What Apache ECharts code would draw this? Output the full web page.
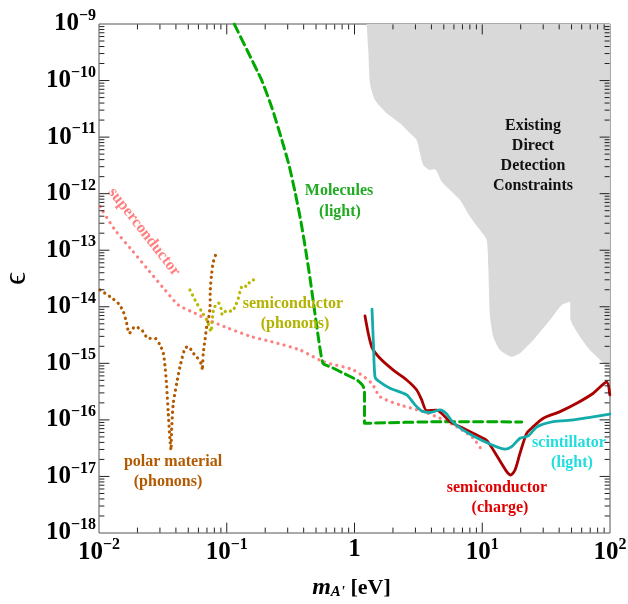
<!DOCTYPE html>
<html>
<head>
<meta charset="utf-8">
<script src="https://cdn.jsdelivr.net/npm/echarts@6/dist/echarts.min.js"></script>
<style>html,body{margin:0;padding:0;background:#fff}#c{width:628px;height:604px}</style>
</head>
<body>
<div id="c"></div>
<script>
// ---- data ----
const xTickExp = [-2, -1, 0, 1, 2];
const yTickExp = [-18, -17, -16, -15, -14, -13, -12, -11, -10, -9];

const existingConstraints = [
  [1.246, 9.95e-10], [1.282, 3.47e-10], [1.322, 8.95e-11], [1.447, 4.53e-11], [1.787, 2.64e-11],
  [2.271, 1.75e-11], [2.719, 1.17e-11], [3.068, 8.9e-12], [3.256, 5.17e-12], [3.456, 3.21e-12],
  [3.899, 2.62e-12], [4.267, 2.69e-12], [4.815, 1.63e-12], [5.592, 1.16e-12], [6.696, 7.7e-13],
  [8.02, 3.92e-13], [9.60, 2.28e-13], [10.84, 1.52e-13], [11.15, 5.12e-14], [11.50, 6.7e-15],
  [12.20, 2.96e-15], [13.77, 1.72e-15], [17.0, 1.31e-15], [19.75, 1.51e-15], [25.09, 2.59e-15],
  [33.9, 5.85e-15], [41.9, 1.08e-14], [48.6, 1.23e-14], [49.2, 5.85e-15], [58.2, 2.96e-15],
  [69.7, 1.72e-15], [83.5, 1.15e-15], [99.9, 8.3e-16]
];

const molecules = [
  [0.1146, 9.95e-10], [0.1441, 3.47e-10], [0.1888, 9.8e-11], [0.2261, 3.27e-11], [0.2659, 1.0e-11],
  [0.3071, 3.21e-12], [0.3452, 9.87e-13], [0.3813, 3.16e-13], [0.415, 1.0e-13], [0.4484, 3.23e-14],
  [0.482, 1.0e-14], [0.5179, 3.17e-15], [0.5667, 1.0e-15], [0.6786, 8.28e-16], [0.8424, 6.48e-16],
  [1.046, 5.08e-16], [1.166, 3.98e-16], [1.198, 3.12e-16], [1.198, 8.71e-17], [4.93, 9.3e-17],
  [20.4, 9.2e-17]
];

const superconductor = [
  [0.01018, 5.9e-13], [0.01334, 2.28e-13], [0.01803, 1.01e-13], [0.02432, 4.48e-14], [0.03288, 1.98e-14],
  [0.04178, 1.08e-14], [0.0564, 7.7e-15], [0.0718, 5.85e-15], [0.1028, 4.17e-15], [0.1567, 2.96e-15],
  [0.2248, 2.41e-15], [0.3744, 1.72e-15], [0.570, 1.07e-15], [0.978, 7.63e-16], [1.363, 4.44e-16],
  [1.583, 2.58e-16], [2.27, 1.84e-16], [3.46, 1.40e-16], [4.67, 1.07e-16], [6.31, 7.6e-17],
  [8.51, 4.73e-17], [9.9, 2.94e-17]
];

const polarMaterial = [
  [0.01018, 1.98e-14], [0.01219, 1.51e-14], [0.01416, 1.15e-14], [0.01549, 8.2e-15], [0.01647, 5.1e-15],
  [0.01726, 3.4e-15], [0.01914, 4.45e-15], [0.02159, 3.89e-15], [0.02432, 2.77e-15], [0.02743, 2.77e-15],
  [0.03002, 2.11e-15], [0.03186, 1.51e-15], [0.03288, 8.7e-16], [0.03388, 3.87e-16], [0.03486, 1.31e-16],
  [0.03595, 4.4e-17], [0.03662, 2.94e-17], [0.03700, 6.6e-17], [0.03818, 1.97e-16], [0.04057, 4.44e-16],
  [0.04305, 8.7e-16], [0.04711, 1.85e-15], [0.05000, 1.97e-15], [0.05470, 1.51e-15], [0.05818, 1.31e-15],
  [0.06368, 9.35e-16], [0.06430, 7.6e-16], [0.06548, 1.51e-15], [0.06755, 2.59e-15], [0.06966, 4.45e-15],
  [0.07177, 5.85e-15], [0.07401, 1.0e-14], [0.0743, 1.98e-14], [0.07627, 3.9e-14], [0.07858, 6.27e-14],
  [0.08336, 9.2e-14]
];

const semiPhonons = [
  [0.05152, 1.98e-14], [0.0564, 1.32e-14], [0.06368, 8.2e-15], [0.06966, 5.85e-15], [0.07534, 3.63e-15],
  [0.0769, 5.85e-15], [0.0794, 9.4e-15], [0.0859, 1.18e-14], [0.0902, 9.4e-15], [0.0923, 7.2e-15],
  [0.0969, 8.2e-15], [0.1028, 8.77e-15], [0.1093, 8.2e-15], [0.1161, 1.0e-14], [0.1231, 1.41e-14],
  [0.1292, 2.12e-14], [0.1347, 2.43e-14], [0.1432, 2.27e-14], [0.1520, 2.78e-14], [0.1614, 2.98e-14],
  [0.1747, 2.6e-14]
];

const semiCharge = [
  [1.208, 6.9e-15], [1.363, 1.97e-15], [1.583, 1.23e-15], [2.013, 7.6e-16], [2.563, 5.08e-16],
  [3.068, 3.38e-16], [3.357, 2.25e-16], [3.674, 1.46e-16], [4.399, 1.49e-16], [4.955, 1.22e-16],
  [5.592, 9.3e-17], [7.556, 6.64e-17], [9.05, 5.41e-17], [10.84, 4.33e-17], [12.20, 2.94e-17],
  [13.77, 1.88e-17], [15.54, 1.22e-17], [16.70, 1.06e-17], [18.05, 1.30e-17], [19.75, 2.57e-17],
  [22.28, 5.8e-17], [25.09, 7.6e-17], [30.06, 1.07e-16], [40.6, 1.40e-16], [54.9, 1.97e-16],
  [74.0, 2.96e-16], [94.2, 4.68e-16], [99.7, 2.76e-16]
];

const scintillator = [
  [1.371, 9.1e-15], [1.408, 2.11e-15], [1.447, 5.74e-16], [1.536, 4.88e-16], [1.896, 3.62e-16],
  [2.563, 2.76e-16], [2.976, 1.84e-16], [3.357, 1.44e-16], [3.899, 1.35e-16], [4.67, 1.50e-16],
  [5.203, 1.31e-16], [5.767, 9.6e-17], [6.696, 7.2e-17], [8.51, 5.2e-17], [11.50, 3.75e-17],
  [15.07, 3.03e-17], [17.0, 3.36e-17], [19.75, 4.73e-17], [22.94, 5.2e-17], [26.69, 7.5e-17],
  [35.99, 9.3e-17], [51.6, 9.97e-17], [69.7, 1.11e-16], [99.8, 1.27e-16]
];

// ---- chart ----
const SERIF = '"Liberation Serif","Times New Roman",serif';
const chart = echarts.init(document.getElementById('c'), null, {renderer: 'canvas'});

function expLabel(v) {
  const e = Math.round(Math.log10(v));
  if (e === 0) return '{b|1}';
  if (e === 1) return '{b|10}{e|1}';
  if (e > 1) return '{b|10}{e|' + e + '}';
  return '{b|10}{e|\u2212' + (-e) + '}';
}
const labelRich = {
  b: {fontFamily: SERIF, fontWeight: 'bold', fontSize: 25, color: '#000'},
  e: {fontFamily: SERIF, fontWeight: 'bold', fontSize: 16, color: '#000', padding: [0, 0, 16, 0]}
};

function curve(data, color, width, dash, z, smooth) {
  return {
    type: 'line', data: data, showSymbol: false, symbol: 'none', z: z || 3, silent: true,
    smooth: smooth === undefined ? 0.25 : smooth,
    lineStyle: {color: color, width: width, type: dash || 'solid', cap: 'round', join: 'round'}
  };
}

function txt(x, y, s, color, size) {
  return {type: 'text', x: x, y: y, z: 20, silent: true,
    style: {text: s, fill: color, font: 'bold ' + (size || 16) + 'px ' + SERIF, textAlign: 'center', textVerticalAlign: 'middle'}};
}

// ---- inward tick marks on all four sides, drawn as short segments on the log axes.
// Endpoints are kept just inside the axis extent (values exactly on the extent are not drawn).
const X0 = 0.01, X1 = 100, Y0 = 1e-18, Y1 = 1e-9;
const GRID = {left: 99, top: 24, right: 18, bottom: 71};
const pxPerDecX = (628 - GRID.left - GRID.right) / (xTickExp[xTickExp.length - 1] - xTickExp[0]);
const pxPerDecY = (604 - GRID.top - GRID.bottom) / (yTickExp[yTickExp.length - 1] - yTickExp[0]);
const gX = Math.pow(10, 0.4 / pxPerDecX), gY = Math.pow(10, 0.4 / pxPerDecY);
function tickSeg(a, b) {
  return {type: 'line', data: [a, b], showSymbol: false, symbol: 'none', silent: true,
    z: 30, smooth: false, lineStyle: {color: '#222', width: 1, type: 'solid'}};
}
const tickSeries = [];
function xTick(v, len) {
  if (v <= X0 * 1.0001 || v >= X1 / 1.0001) return; // corners coincide with the frame
  const f = Math.pow(10, len / pxPerDecY);
  tickSeries.push(tickSeg([v, Y0 * gY], [v, Y0 * gY * f]));
  tickSeries.push(tickSeg([v, Y1 / gY], [v, Y1 / (gY * f)]));
}
function yTick(v, len) {
  if (v <= Y0 * 1.0001 || v >= Y1 / 1.0001) return;
  const f = Math.pow(10, len / pxPerDecX);
  tickSeries.push(tickSeg([X0 * gX, v], [X0 * gX * f, v]));
  tickSeries.push(tickSeg([X1 / gX, v], [X1 / (gX * f), v]));
}
for (let i = 0; i < xTickExp.length; i++) {
  xTick(Math.pow(10, xTickExp[i]), 10);
  if (i < xTickExp.length - 1) for (let k = 2; k <= 9; k++) xTick(k * Math.pow(10, xTickExp[i]), 5);
}
for (let i = 0; i < yTickExp.length; i++) {
  yTick(Math.pow(10, yTickExp[i]), 10);
  if (i < yTickExp.length - 1) for (let k = 2; k <= 9; k++) yTick(k * Math.pow(10, yTickExp[i]), 5);
}

const option = {
  animation: false,
  backgroundColor: '#fff',
  grid: {left: GRID.left, top: GRID.top, right: GRID.right, bottom: GRID.bottom, outerBoundsMode: 'none', containLabel: false,
    show: true, borderColor: '#555', borderWidth: 1, backgroundColor: 'transparent'},
  xAxis: {
    type: 'log', logBase: 10, min: X0, max: X1, splitNumber: 4,
    axisLine: {show: false}, axisTick: {show: false}, splitLine: {show: false},
    axisLabel: {formatter: expLabel, rich: labelRich, margin: 4},
    name: '{m|m}{s|A\'}{n| [eV]}', nameLocation: 'middle', nameGap: 43,
    nameTextStyle: {rich: {
      m: {fontFamily: SERIF, fontWeight: 'bold', fontStyle: 'italic', fontSize: 24, color: '#000'},
      s: {fontFamily: SERIF, fontWeight: 'bold', fontStyle: 'italic', fontSize: 15, color: '#000', padding: [8, 0, 0, 0]},
      n: {fontFamily: SERIF, fontWeight: 'bold', fontSize: 22, color: '#000', padding: [0, 6, 0, 0]}
    }}
  },
  yAxis: {
    type: 'log', logBase: 10, min: Y0, max: Y1, splitNumber: 9,
    axisLine: {show: false}, axisTick: {show: false}, splitLine: {show: false},
    axisLabel: {formatter: expLabel, rich: labelRich, margin: 3},
    name: '\u03f5', nameLocation: 'middle', nameGap: 66, nameRotate: 90,
    nameTextStyle: {fontFamily: SERIF, fontSize: 32, color: '#000'}
  },
  series: [
    {
      type: 'line', data: existingConstraints, showSymbol: false, symbol: 'none', z: 1, silent: true,
      smooth: 0.2,
      lineStyle: {width: 0, color: '#d9d9d9'},
      areaStyle: {color: '#d9d9d9', opacity: 1, origin: 'end'}
    },
    curve(superconductor, '#ff8080', 3.2, [0.1, 6.2], 3),
    curve(polarMaterial, '#b35900', 3.2, [0.1, 5.5], 4),
    curve(semiPhonons, '#b8b800', 3.2, [0.1, 5.5], 4),
    curve(molecules, '#00a800', 3, [9, 5], 5, 0.15),
    curve(semiCharge, '#aa0000', 2.8, 'solid', 6),
    curve(scintillator, '#14abab', 2.8, 'solid', 6)
  ].concat(tickSeries),
  graphic: [
    {type: 'text', x: 144, y: 232, rotation: -52 * Math.PI / 180, z: 20, silent: true,
      style: {text: 'superconductor', fill: '#ff8080', font: 'bold 16px ' + SERIF, textAlign: 'center', textVerticalAlign: 'middle'}},
    txt(339, 191, 'Molecules', '#22aa22'),
    txt(340, 212, '(light)', '#22aa22'),
    txt(533, 126, 'Existing', '#111'),
    txt(533, 146, 'Direct', '#111'),
    txt(533, 166, 'Detection', '#111'),
    txt(533, 186, 'Constraints', '#111'),
    txt(293, 304, 'semiconductor', '#b3b300'),
    txt(295, 324, '(phonons)', '#b3b300'),
    txt(173, 462, 'polar material', '#b35900'),
    txt(168, 482, '(phonons)', '#b35900'),
    txt(497, 488, 'semiconductor', '#e00000'),
    txt(500, 508, '(charge)', '#e00000'),
    txt(569, 443, 'scintillator', '#22dddd'),
    txt(572, 463, '(light)', '#22dddd')
  ]
};
chart.setOption(option);
</script>
</body>
</html>
